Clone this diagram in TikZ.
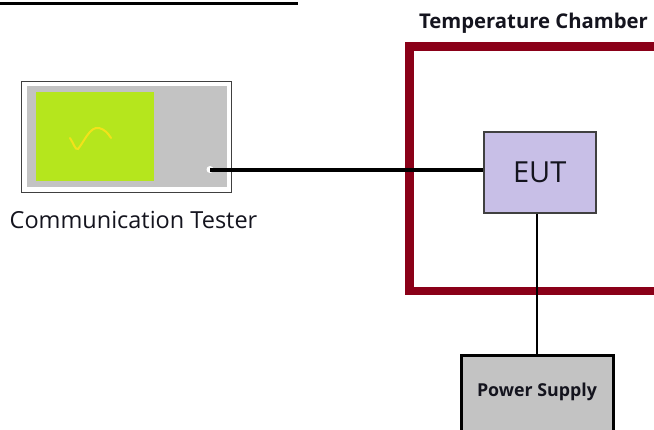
\documentclass[tikz,border=0pt]{standalone}
\usepackage{fontspec}
\setmainfont{Open Sans}
\definecolor{chamberred}{HTML}{8A0018}
\definecolor{screengreen}{HTML}{B5E61D}
\definecolor{wave}{HTML}{F2E21A}
\definecolor{panelgray}{HTML}{C3C3C3}
\definecolor{eutfill}{HTML}{C8BFE7}
\definecolor{txt}{HTML}{14141E}
\tikzset{
  lbl/.style={inner sep=0pt, text=txt},
  wire/.style={line width=4pt, black},
}
\begin{document}
\begin{tikzpicture}[x=1pt,y=-1pt]
\useasboundingbox (0,0) rectangle (654,429);
\clip (0,0) rectangle (654,429);
\fill[white] (0,0) rectangle (654,429);
% top bar
\fill[black] (0,2) rectangle (298,4.7);
% communication tester
\draw[line width=1.5pt, draw=black!75, fill=white] (21.5,81.5) rectangle (231.5,192.5);
\fill[panelgray] (27,86) rectangle (227,187);
\node[fill=screengreen, minimum width=118pt, minimum height=89pt, inner sep=0pt, anchor=north west] (screen) at (36,92) {};
\draw[wave, line width=2pt, line cap=round] (70,138) .. controls (74,144) and (75,150) .. (78,149) .. controls (84,142) and (90,126) .. (99,128) .. controls (104,129) and (108,133) .. (111,138);
\node[circle, fill=white, inner sep=0pt, minimum size=7pt] (port) at (210,169.5) {};
\node[lbl, font=\fontsize{23.5}{28}\selectfont] (ctlabel) at (133.5,220) {Communication Tester};
% chamber
\node[lbl, font=\bfseries\fontsize{20.3}{24}\selectfont] (chlabel) at (533.5,23) {Temperature Chamber};
\draw[chamberred, line width=8.5pt] (409.5,46.25) rectangle (658,291);
% EUT
\node[draw=black!75, line width=1.5pt, fill=eutfill, minimum width=112pt, minimum height=81pt, inner sep=0pt, anchor=north west, font=\fontsize{29}{34}\selectfont, text=txt] (eut) at (483,131) {EUT};
% power supply
\node[draw=black, line width=3pt, fill=panelgray, minimum width=152pt, minimum height=100pt, inner sep=0pt, anchor=north west] (ps) at (460,354) {};
\node[lbl, font=\bfseries\fontsize{17.8}{21}\selectfont] (pslabel) at (537,392) {Power Supply};
% wires
\draw[wire] (port.center) -- (eut.west |- port.center);
\draw[line width=2.7pt] (eut.south -| 537,0) -- (ps.north -| 537,0);
\end{tikzpicture}
\end{document}
